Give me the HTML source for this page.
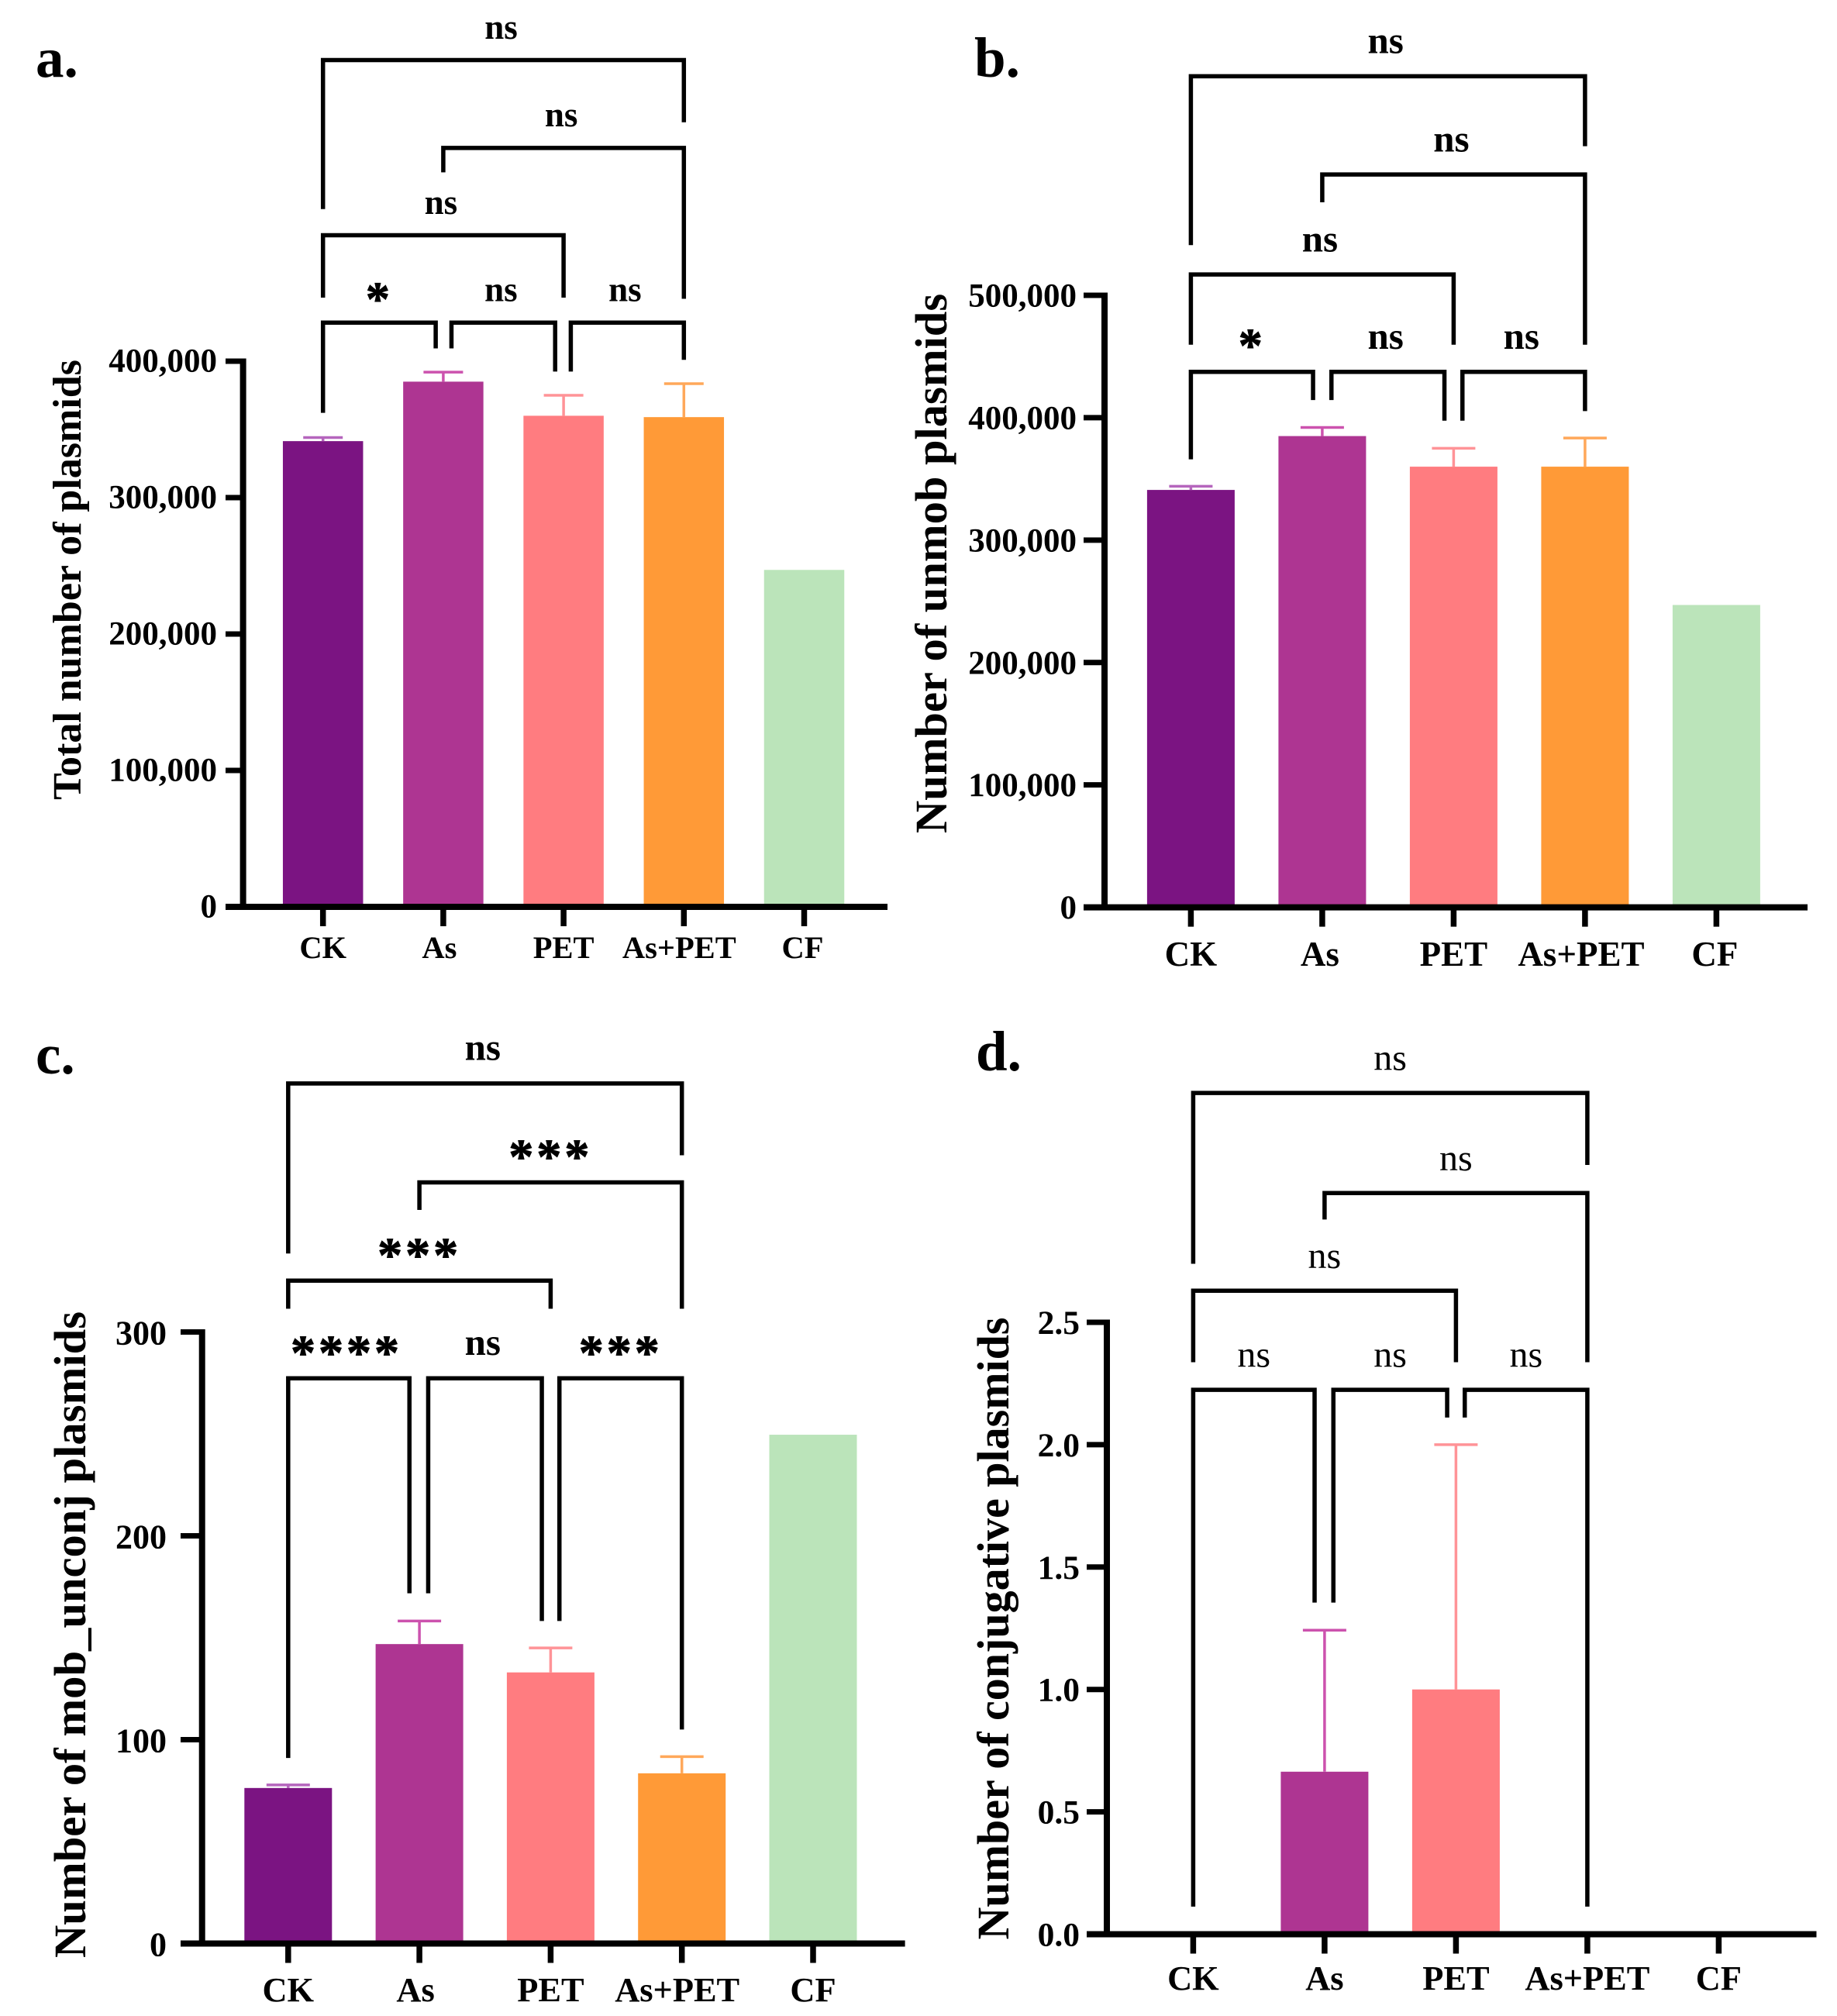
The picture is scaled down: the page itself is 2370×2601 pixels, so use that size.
<!DOCTYPE html>
<html lang="en">
<head>
<meta charset="utf-8">
<title>Plasmid counts by treatment</title>
<style>
  html, body { margin: 0; padding: 0; background: #fff; }
  #figure { display: block; width: 2370px; height: 2601px; background: #fff; }
  text { font-family: "Liberation Serif", "DejaVu Serif", serif; fill: #000; }
  .bold { font-weight: 700; }
</style>
</head>
<body>
<svg id="figure" xmlns="http://www.w3.org/2000/svg" width="2370" height="2601" viewBox="0 0 2370 2601">
  <g id="panel-a">
    <text class="bold" x="46" y="99" font-size="73">a.</text>
    <text class="bold" transform="translate(104,748) rotate(-90)" text-anchor="middle" font-size="52">Total number of plasmids</text>
  </g>
  <g id="panel-b">
    <text class="bold" x="1257" y="99" font-size="73">b.</text>
    <text class="bold" transform="translate(1221,727) rotate(-90)" text-anchor="middle" font-size="58.5">Number of unmob plasmids</text>
  </g>
  <g id="panel-c">
    <text class="bold" x="46" y="1385" font-size="73">c.</text>
    <text class="bold" transform="translate(110,2109) rotate(-90)" text-anchor="middle" font-size="58.6">Number of mob_unconj plasmids</text>
  </g>
  <g id="panel-d">
    <text class="bold" x="1259" y="1381" font-size="73">d.</text>
    <text class="bold" transform="translate(1301,2101) rotate(-90)" text-anchor="middle" font-size="58">Number of conjugative plasmids</text>
  </g>
</svg>
<script>
// ---- Shared categories ----
const categories = ['CK', 'As', 'PET', 'As+PET', 'CF'];

// ---- Panel a: total plasmids ----
const panelAValues = [341400, 385000, 360000, 359000, 247000];
const panelAErrors = [344000, 392000, 375000, 383500, null];
const panelATicks = [0, 100000, 200000, 300000, 400000];
const panelATickLabels = ['0', '100,000', '200,000', '300,000', '400,000'];
// [from category, to category, bracket level, left end, right end, label] in axis units
const panelABrackets = [
  [0, 3, 620757, 511524, 575152, 'ns'],
  [1, 3, 556332, 538408, 445704, 'ns'],
  [0, 2, 492305, 446600, 446600, 'ns'],
  [0, 0.937, 428279, 362162, 409360, '*'],
  [1.068, 1.93, 428279, 409360, 392433, 'ns'],
  [2.06, 3, 428279, 392433, 400997, 'ns']
];

// ---- Panel b: unmob plasmids ----
const panelBValues = [341000, 385000, 360000, 360000, 247000];
const panelBErrors = [344000, 392000, 375000, 383400, null];
const panelBTicks = [0, 100000, 200000, 300000, 400000, 500000];
const panelBTickLabels = ['0', '100,000', '200,000', '300,000', '400,000', '500,000'];
const panelBBrackets = [
  [0, 3, 679000, 541000, 621800, 'ns'],
  [1, 3, 598700, 576000, 459600, 'ns'],
  [0, 2, 517000, 459600, 459600, 'ns'],
  [0, 0.93, 437500, 366000, 414400, '*'],
  [1.07, 1.93, 437500, 414400, 397600, 'ns'],
  [2.067, 3, 437500, 397600, 405400, 'ns']
];

// ---- Panel c: mob_unconj plasmids ----
const panelCValues = [76.3, 146.9, 133, 83.5, 249.6];
const panelCErrors = [77.8, 158.2, 145, 91.7, null];
const panelCTicks = [0, 100, 200, 300];
const panelCTickLabels = ['0', '100', '200', '300'];
const panelCBrackets = [
  [0, 3, 421.9, 338.5, 386.7, 'ns'],
  [1, 3, 373.4, 359.9, 311.4, '***'],
  [0, 2, 325.2, 311.4, 311.4, '***'],
  [0, 0.924, 277.3, 91, 171.8, '****'],
  [1.067, 1.933, 277.3, 171.8, 158.2, 'ns'],
  [2.067, 3, 277.3, 158.2, 105, '***']
];

// ---- Panel d: conjugative plasmids ----
const panelDValues = [0, 0.664, 1.0, 0, 0];
const panelDErrors = [null, 1.242, 2.0, null, null];
const panelDTicks = [0, 0.5, 1, 1.5, 2, 2.5];
const panelDTickLabels = ['0.0', '0.5', '1.0', '1.5', '2.0', '2.5'];
const panelDBrackets = [
  [0, 3, 3.437, 2.739, 3.143, 'ns'],
  [1, 3, 3.028, 2.92, 2.337, 'ns'],
  [0, 2, 2.629, 2.337, 2.337, 'ns'],
  [0, 0.924, 2.224, 0.113, 1.355, 'ns'],
  [1.067, 1.933, 2.224, 1.355, 2.111, 'ns'],
  [2.067, 3, 2.224, 2.111, 0.113, 'ns']
];

// ---- Series colours ----
const barColors = ['#7b1482', '#ae3592', '#ff7c80', '#ff9a37', '#bbe4ba'];
const errorColors = ['#b565bd', '#cc52ae', '#ff9397', '#ffa85a', '#bbe4ba'];

const SVG_NS = 'http://www.w3.org/2000/svg';

function svgEl(parent, tag, attrs) {
  const el = document.createElementNS(SVG_NS, tag);
  for (const key in attrs) el.setAttribute(key, attrs[key]);
  parent.appendChild(el);
  return el;
}

function drawPanel(cfg) {
  const g = document.getElementById(cfg.id);
  const yMax = cfg.ticks[cfg.ticks.length - 1];
  const yScale = v => cfg.baseY - (v / yMax) * (cfg.baseY - cfg.topY);
  const xScale = c => cfg.firstX + c * cfg.step;

  // bars
  cfg.values.forEach((v, i) => {
    if (v <= 0) return;
    const bar = svgEl(g, 'rect', {
      x: xScale(i) - cfg.barW / 2, y: yScale(v),
      width: cfg.barW, height: cfg.baseY - yScale(v),
      fill: barColors[i]
    });
    
    
  });

  // error bars
  cfg.errors.forEach((e, i) => {
    if (e === null) return;
    const path = svgEl(g, 'path', {
      d: 'M' + xScale(i) + ' ' + yScale(cfg.values[i]) + 'V' + yScale(e) +
         'M' + (xScale(i) - cfg.capW / 2) + ' ' + yScale(e) + 'H' + (xScale(i) + cfg.capW / 2),
      fill: 'none', stroke: errorColors[i], 'stroke-width': 3.5
    });
    
    
  });

  // y axis line and ticks
  const yAxis = svgEl(g, 'path', {
    d: 'M' + cfg.axisX + ' ' + (cfg.topY - 3.5) + 'V' + (cfg.baseY + 3.5),
    fill: 'none', stroke: '#000', 'stroke-width': 8
  });
  
  

  cfg.ticks.forEach((t, i) => {
    const tick = svgEl(g, 'path', {
      d: 'M' + cfg.tickLeft + ' ' + yScale(t) + 'H' + cfg.axisX,
      fill: 'none', stroke: '#000', 'stroke-width': 7
    });
    
    
    const label = svgEl(g, 'text', {
      x: cfg.tickLabelX, y: yScale(t) + 14.5 + cfg.tickLabelDrop, 'text-anchor': 'end',
      'font-size': cfg.tickFont, 'font-weight': 700
    });
    label.textContent = cfg.tickLabels[i];
    
    
  });

  // x axis line, ticks, category labels
  const xAxis = svgEl(g, 'path', {
    d: 'M' + cfg.tickLeft + ' ' + cfg.baseY + 'H' + cfg.axisEnd,
    fill: 'none', stroke: '#000', 'stroke-width': 8
  });
  
  

  categories.forEach((c, i) => {
    const tick = svgEl(g, 'path', {
      d: 'M' + xScale(i) + ' ' + cfg.baseY + 'v25',
      fill: 'none', stroke: '#000', 'stroke-width': 7.5
    });
    
    
    const label = svgEl(g, 'text', {
      x: xScale(i) + cfg.catNudge(i), y: cfg.catLabelY, 'text-anchor': 'middle',
      'font-size': cfg.catFont, 'font-weight': 700
    });
    label.textContent = c;
    
    
  });

  // significance brackets
  cfg.brackets.forEach(b => {
    const x1 = xScale(b[0]), x2 = xScale(b[1]);
    const path = svgEl(g, 'path', {
      d: 'M' + x1 + ' ' + yScale(b[3]) + 'V' + yScale(b[2]) + 'H' + x2 + 'V' + yScale(b[4]),
      fill: 'none', stroke: '#000', 'stroke-width': 5.5, 'stroke-linejoin': 'miter'
    });
    
    

    const isStar = b[5].charAt(0) === '*';
    const centerY = yScale(b[2]) - (isStar ? cfg.starGap : cfg.nsGap);
    const label = svgEl(g, 'text', {
      x: (x1 + x2) / 2 + (isStar ? (b[5].length === 4 ? -3 : 0) : cfg.nsShift),
      y: isStar ? centerY + 0.47 * cfg.starFont : centerY + 0.23 * cfg.nsFont,
      'text-anchor': 'middle',
      'font-size': isStar ? cfg.starFont : cfg.nsFont,
      'font-weight': (isStar || cfg.nsBold) ? 700 : 400,
      'letter-spacing': isStar ? 4 : 0,
      stroke: isStar ? '#000' : 'none',
      'stroke-width': isStar ? 1 : 0
    });
    label.textContent = b[5];
    
    
  });
}

drawPanel({
  id: 'panel-a', key: 'a',
  values: panelAValues, errors: panelAErrors, ticks: panelATicks, tickLabels: panelATickLabels, brackets: panelABrackets,
  axisX: 313.6, topY: 466, baseY: 1170, tickLeft: 291, axisEnd: 1145,
  firstX: 416.7, step: 155.2, barW: 103.5, capW: 51,
  tickLabelX: 280, tickFont: 43, tickLabelDrop: -1, catLabelY: 1236, catFont: 40.5,
  catNudge: i => (i === 1 ? -5 : i === 3 ? -6 : i === 4 ? -2 : 0),
  nsFont: 45, nsBold: true, starFont: 62, nsGap: 38, nsShift: -3, starGap: 39
});
drawPanel({
  id: 'panel-b', key: 'b',
  values: panelBValues, errors: panelBErrors, ticks: panelBTicks, tickLabels: panelBTickLabels, brackets: panelBBrackets,
  axisX: 1425, topY: 381, baseY: 1170.6, tickLeft: 1398, axisEnd: 2332,
  firstX: 1536.4, step: 169.5, barW: 113, capW: 56,
  tickLabelX: 1389, tickFont: 43, tickLabelDrop: 0, catLabelY: 1246, catFont: 45,
  catNudge: i => (i === 1 ? -3 : i === 3 ? -5 : i === 4 ? -2 : 0),
  nsFont: 49, nsBold: true, starFont: 62, nsGap: 41, nsShift: -3, starGap: 42.5
});
drawPanel({
  id: 'panel-c', key: 'c',
  values: panelCValues, errors: panelCErrors, ticks: panelCTicks, tickLabels: panelCTickLabels, brackets: panelCBrackets,
  axisX: 260.7, topY: 1718.5, baseY: 2507.5, tickLeft: 233, axisEnd: 1167.6,
  firstX: 371.8, step: 169.3, barW: 113, capW: 56,
  tickLabelX: 215, tickFont: 44, tickLabelDrop: 1.5, catLabelY: 2582, catFont: 44.4,
  catNudge: i => (i === 1 ? -5 : i === 3 ? -6 : 0),
  nsFont: 49, nsBold: true, starFont: 64, nsGap: 41.5, nsShift: -3, starGap: 42
});
drawPanel({
  id: 'panel-d', key: 'd',
  values: panelDValues, errors: panelDErrors, ticks: panelDTicks, tickLabels: panelDTickLabels, brackets: panelDBrackets,
  axisX: 1428, topY: 1706, baseY: 2495.5, tickLeft: 1402, axisEnd: 2343.5,
  firstX: 1539.4, step: 169.5, barW: 113, capW: 56,
  tickLabelX: 1393, tickFont: 43.5, tickLabelDrop: 0.5, catLabelY: 2567, catFont: 44.4,
  catNudge: i => 0,
  nsFont: 48, nsBold: false, starFont: 62, nsGap: 40.5, nsShift: 0, starGap: 41
});
</script>
</body>
</html>
